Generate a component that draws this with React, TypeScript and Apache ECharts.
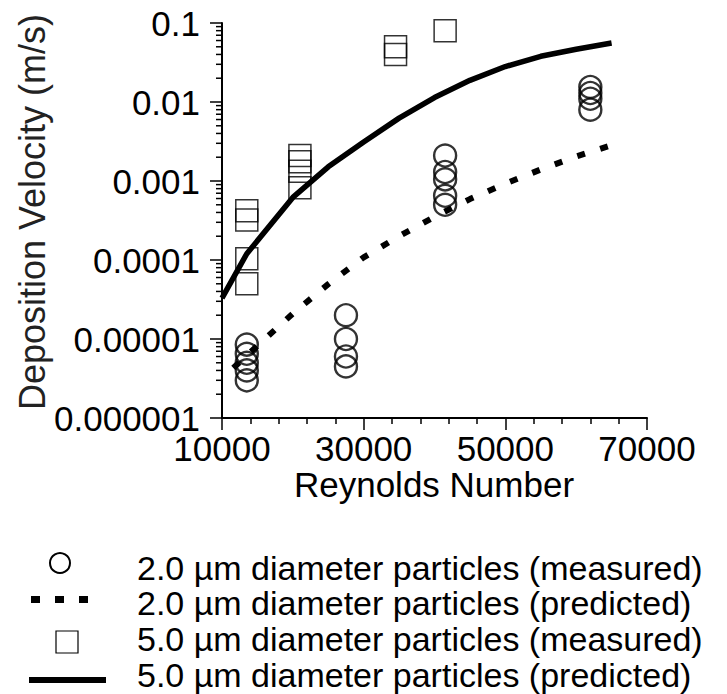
import React, { useEffect, useRef } from "react";
import * as echarts from "echarts";

// ---- data ----
const yTickLabels = ["0.000001", "0.00001", "0.0001", "0.001", "0.01", "0.1"];

const re2Measured = [13500, 13500, 13500, 13500, 13500, 27500, 27500, 27500, 27500, 41500, 41500, 41500, 41500, 41500, 62000, 62000, 62000, 62000];
const v2Measured = [8.5e-6, 6.5e-6, 5e-6, 4e-6, 3e-6, 2e-5, 1e-5, 6e-6, 4.5e-6, 2.1e-3, 1.3e-3, 1.05e-3, 6.5e-4, 5e-4, 0.0155, 0.013, 0.011, 0.008];

const re5Measured = [13500, 13500, 13500, 13500, 21000, 21000, 21000, 21000, 34500, 34500, 41500];
const v5Measured = [4.2e-4, 3.2e-4, 1.04e-4, 5e-5, 2.1e-3, 1.75e-3, 1.33e-3, 8.2e-4, 0.05, 0.04, 0.08];

const re2Predicted = [11600, 13500, 20000, 25000, 30000, 35000, 40000, 45000, 50000, 55000, 60000, 65000];
const v2Predicted = [4.3e-6, 6.2e-6, 2.1e-5, 4.95e-5, 1.08e-4, 2.0e-4, 3.53e-4, 5.9e-4, 9.25e-4, 1.4e-3, 2.04e-3, 2.84e-3];

const re5Predicted = [10000, 13500, 20000, 25000, 30000, 35000, 40000, 45000, 50000, 55000, 60000, 65000];
const v5Predicted = [3.3e-5, 1.2e-4, 6.2e-4, 1.51e-3, 3.12e-3, 6.25e-3, 0.0114, 0.0188, 0.0281, 0.0379, 0.0466, 0.0557];

const xName = "Reynolds Number";
const yName = "Deposition Velocity (m/s)";
const legendLabels = [
  "2.0 µm diameter particles (measured)",
  "2.0 µm diameter particles (predicted)",
  "5.0 µm diameter particles (measured)",
  "5.0 µm diameter particles (predicted)",
];

const FONT = "'Liberation Sans', Arial, Helvetica, sans-serif";
const FS = 35;
const LEG_FS = 34;

const zip = (xs: number[], ys: number[]) => xs.map((x, i) => [x, ys[i]]);

// minor log ticks 2..9 per decade
const minorLogTicks: number[][] = [];
for (let e = -6; e <= -2; e++) {
  for (let k = 2; k <= 9; k++) minorLogTicks.push([10000, k * Math.pow(10, e)]);
}

export default function App() {
  const ref = useRef<HTMLDivElement>(null);
  useEffect(() => {
    if (!ref.current) return;
    const chart = echarts.init(ref.current, null, { renderer: "svg" });
    const rowY = [568, 603, 639, 675];
    chart.setOption({
      animation: false,
      backgroundColor: "#fff",
      textStyle: { fontFamily: FONT, color: "#000" },
      grid: { left: 222, top: 23, width: 425, height: 395, containLabel: false },
      xAxis: {
        type: "value",
        min: 10000,
        max: 70000,
        interval: 20000,
        axisLine: { show: true, lineStyle: { color: "#000", width: 2 } },
        axisTick: { show: true, length: 12, lineStyle: { color: "#000", width: 1.5 } },
        minorTick: { show: true, splitNumber: 5, length: 6, lineStyle: { color: "#000", width: 1.5 } },
        axisLabel: { fontSize: FS, color: "#000", margin: 13, fontFamily: FONT, formatter: (v: number) => String(v) },
        splitLine: { show: false },
        minorSplitLine: { show: false },
      },
      yAxis: {
        type: "log",
        logBase: 10,
        min: 1e-6,
        max: 0.1,
        splitNumber: 5,
        axisLine: { show: true, lineStyle: { color: "#000", width: 2 } },
        axisTick: { show: true, length: 12, lineStyle: { color: "#000", width: 1.5 } },
        axisLabel: {
          fontSize: FS,
          color: "#000",
          margin: 22,
          fontFamily: FONT,
          formatter: (v: number) => {
            const i = Math.round(Math.log10(v)) + 6;
            return yTickLabels[i] ?? "";
          },
        },
        splitLine: { show: false },
      },
      series: [
        {
          name: "minor y ticks",
          type: "custom",
          clip: false,
          silent: true,
          data: minorLogTicks,
          renderItem: (params: any, api: any) => {
            const p = api.coord([api.value(0), api.value(1)]);
            return {
              type: "line",
              shape: { x1: p[0] - 6, y1: p[1], x2: p[0], y2: p[1] },
              style: { stroke: "#000", lineWidth: 1.5 },
            };
          },
          z: 1,
        },
        {
          name: legendLabels[3],
          type: "line",
          data: zip(re5Predicted, v5Predicted),
          showSymbol: false,
          symbol: "none",
          lineStyle: { color: "#000", width: 5.5, type: "solid" },
          z: 2,
        },
        {
          name: legendLabels[1],
          type: "line",
          data: zip(re2Predicted, v2Predicted),
          showSymbol: false,
          symbol: "none",
          lineStyle: { color: "#000", width: 6, type: [8, 16], cap: "butt" },
          z: 2,
        },
        {
          name: legendLabels[2],
          type: "scatter",
          data: zip(re5Measured, v5Measured),
          symbol: "rect",
          symbolSize: 22,
          itemStyle: { color: "rgba(255,255,255,0)", borderColor: "#000", borderWidth: 1.5 },
          z: 3,
        },
        {
          name: legendLabels[0],
          type: "scatter",
          data: zip(re2Measured, v2Measured),
          symbol: "circle",
          symbolSize: 22,
          itemStyle: { color: "rgba(255,255,255,0)", borderColor: "#000", borderWidth: 2.4 },
          z: 3,
        },
      ],
      graphic: [
        {
          type: "text",
          x: 32,
          y: 212,
          rotation: Math.PI / 2,
          style: { text: yName, font: `36px ${FONT}`, fill: "#222", align: "center", verticalAlign: "middle" },
        },
        {
          type: "text",
          x: 434,
          y: 484,
          style: { text: xName, font: `${FS}px ${FONT}`, fill: "#000", align: "center", verticalAlign: "middle" },
        },
        { type: "circle", shape: { cx: 60, cy: rowY[0] - 5, r: 10 }, style: { fill: "none", stroke: "#000", lineWidth: 2 } },
        { type: "rect", shape: { x: 31, y: rowY[1] - 7, width: 9, height: 7 }, style: { fill: "#000" } },
        { type: "rect", shape: { x: 55, y: rowY[1] - 7, width: 9, height: 7 }, style: { fill: "#000" } },
        { type: "rect", shape: { x: 79, y: rowY[1] - 7, width: 9, height: 7 }, style: { fill: "#000" } },
        { type: "rect", shape: { x: 56, y: rowY[2] - 8, width: 22, height: 22 }, style: { fill: "none", stroke: "#000", lineWidth: 1.2 } },
        { type: "rect", shape: { x: 29, y: rowY[3] + 2, width: 77, height: 6 }, style: { fill: "#000" } },
        ...legendLabels.map((t, i) => ({
          type: "text",
          x: 137,
          y: rowY[i],
          style: {
            text: t,
            fontSize: LEG_FS,
            fontFamily: FONT,
            lineHeight: 34,
            fill: "#000",
            align: "left",
            verticalAlign: "middle",
          },
        })),
      ],
    });
    return () => chart.dispose();
  }, []);
  return <div ref={ref} style={{ width: 727, height: 694, position: "absolute", left: 0, top: 0 }} />;
}
